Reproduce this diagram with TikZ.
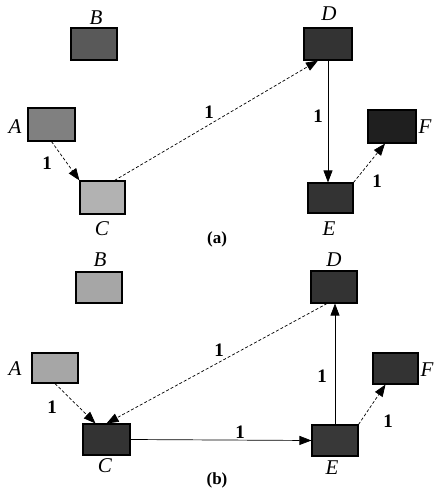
\documentclass[tikz,border=0pt]{standalone}
\usepackage{fontspec}
\setmainfont{Liberation Serif}
\usetikzlibrary{arrows.meta,calc}
\begin{document}
\begin{tikzpicture}[x=1pt,y=-1pt,
  box/.style={draw=black,line width=1.1pt,rectangle,inner sep=0pt},
  lbl/.style={font=\fontsize{21}{21}\selectfont\itshape},
  num/.style={font=\fontsize{19}{19}\selectfont\bfseries},
  panelcap/.style={font=\fontsize{17}{17}\selectfont\bfseries},
  arr/.style={-{Triangle[length=12pt,width=9pt]},line width=0.7pt},
  dsh/.style={arr,dash pattern=on 3pt off 2pt}]
\useasboundingbox (0,0) rectangle (435,488);
% ---------- panel (a)
\node[box,fill=black!65,minimum width=46pt,minimum height=32pt] (aB) at (94,44) {};
\node[box,fill=black!50,minimum width=47pt,minimum height=33pt] (aA) at (51.5,124.5) {};
\node[box,fill=black!30,minimum width=45pt,minimum height=33pt] (aC) at (102.5,197.5) {};
\node[box,fill=black!80,minimum width=48pt,minimum height=32pt] (aD) at (328,44) {};
\node[box,fill=black!88,minimum width=48pt,minimum height=33pt] (aF) at (392,126.5) {};
\node[box,fill=black!80,minimum width=45pt,minimum height=30pt] (aE) at (330.5,198) {};
\node[lbl] (laB) at (96,18) {B};
\node[lbl] (laA) at (15,127) {A};
\node[lbl] (laC) at (102,229) {C};
\node[lbl] (laD) at (329,14) {D};
\node[lbl] (laF) at (425,127) {F};
\node[lbl] (laE) at (329,229) {E};
\node[panelcap] (capa) at (217,239) {(a)};
\draw[dsh] (aA.south) -- (aC.north west);
\draw[dsh] ([xshift=12pt]aC.north) -- ([xshift=-10pt]aD.south);
\draw[arr] (aD.south) -- (aD.south |- aE.north);
\draw[dsh] (aE.north east) -- ([xshift=-7pt]aF.south);
\node[num] (na1) at (47,163) {1};
\node[num] (na2) at (209,112) {1};
\node[num] (na3) at (318,116) {1};
\node[num] (na4) at (377,181) {1};
% ---------- panel (b)
\node[box,fill=black!35,minimum width=46pt,minimum height=31pt] (bB) at (99,287.5) {};
\node[box,fill=black!35,minimum width=46pt,minimum height=30pt] (bA) at (55,368) {};
\node[box,fill=black!80,minimum width=47pt,minimum height=31pt] (bC) at (106.5,439.5) {};
\node[box,fill=black!80,minimum width=46pt,minimum height=32pt] (bD) at (334,287) {};
\node[box,fill=black!80,minimum width=45pt,minimum height=31pt] (bF) at (395.5,368.5) {};
\node[box,fill=black!78,minimum width=46pt,minimum height=31pt] (bE) at (335,440.5) {};
\node[lbl] (lbB) at (100,260) {B};
\node[lbl] (lbA) at (15,369) {A};
\node[lbl] (lbC) at (105,466) {C};
\node[lbl] (lbD) at (334,260) {D};
\node[lbl] (lbF) at (427,370) {F};
\node[lbl] (lbE) at (332,468) {E};
\node[panelcap] (capb) at (217,480) {(b)};
\draw[dsh] (bA.south) -- ([xshift=-11pt]bC.north);
\draw[dsh] ([xshift=-7pt]bD.south) -- (bC.north);
\draw[arr] (bC.east) -- (bE.west);
\draw[arr] (bE.north) -- (bE.north |- bD.south);
\draw[dsh] (bE.north east) -- ([xshift=-10pt]bF.south);
\node[num] (nb1) at (52,407) {1};
\node[num] (nb2) at (219,350) {1};
\node[num] (nb3) at (240,432) {1};
\node[num] (nb4) at (322,376) {1};
\node[num] (nb5) at (388,421) {1};
\end{tikzpicture}
\end{document}
